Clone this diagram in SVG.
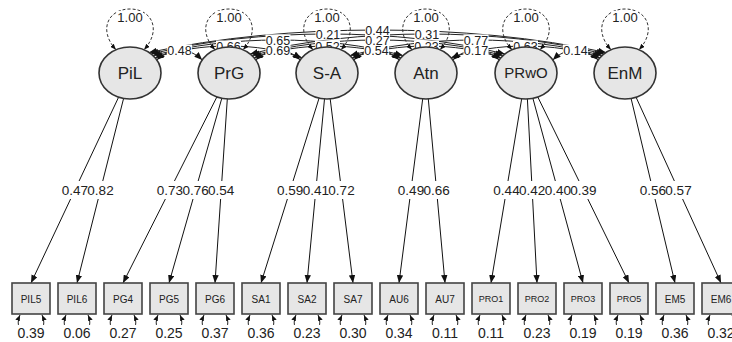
<svg xmlns="http://www.w3.org/2000/svg" width="732" height="342" viewBox="0 0 732 342">
<style>
text{font-family:"Liberation Sans",Arial,sans-serif;fill:#222}
.lat{fill:#e6e6e6;stroke:#333;stroke-width:1.6}
.man{fill:#e6e6e6;stroke:#444;stroke-width:1.6}
.ln{fill:none;stroke:#111;stroke-width:1;marker-end:url(#ah)}
.cor{fill:none;stroke:#222;stroke-width:1;marker-start:url(#ah);marker-end:url(#ah)}
.loop{fill:none;stroke:#333;stroke-width:1;stroke-dasharray:3 2;marker-start:url(#as);marker-end:url(#as)}
.res{fill:none;stroke:#222;stroke-width:1;marker-start:url(#as);marker-end:url(#as)}
.lbl{font-size:12.5px;text-anchor:middle}
.ll{font-size:13.5px;text-anchor:middle}
.rl{font-size:14px;text-anchor:middle}
.vl{font-size:13px;text-anchor:middle}
.bg{fill:#fff}
.lt{font-size:17px;text-anchor:middle}
.mt{font-size:10px;text-anchor:middle}
.pt{font-size:9px;text-anchor:middle}
</style>
<defs>
<marker id="ah" viewBox="0 0 10 8" refX="10" refY="4" markerWidth="8" markerHeight="6.4" markerUnits="userSpaceOnUse" orient="auto-start-reverse"><path d="M0,0 L10,4 L0,8 z" fill="#111"/></marker>
<marker id="as" viewBox="0 0 10 8" refX="10" refY="4" markerWidth="6" markerHeight="5" markerUnits="userSpaceOnUse" orient="auto-start-reverse"><path d="M0,0 L10,4 L0,8 z" fill="#111"/></marker>
</defs>
<g id="connectors">
<path class="ln" d="M118.6,97.2 L31,283"/>
<path class="ln" d="M123.6,98.4 L77,283"/>
<path class="ln" d="M216.9,96.9 L123,283"/>
<path class="ln" d="M221.8,98.3 L169,283"/>
<path class="ln" d="M227.3,99 L215,283"/>
<path class="ln" d="M319.1,98.1 L261,283"/>
<path class="ln" d="M324.5,98.9 L307,283"/>
<path class="ln" d="M330.2,98.9 L353,283"/>
<path class="ln" d="M422.7,98.9 L399,283"/>
<path class="ln" d="M428.3,98.9 L445,283"/>
<path class="ln" d="M521.7,98.7 L491,283"/>
<path class="ln" d="M527.4,99 L537,283"/>
<path class="ln" d="M532.9,98.3 L583,283"/>
<path class="ln" d="M537.8,97 L629,283"/>
<path class="ln" d="M631.1,98.5 L675,283"/>
<path class="ln" d="M636.1,97.3 L721,283"/>
<path class="cor" d="M156.8,60 C170.4,46.7 188.6,46.7 202.2,60"/>
<path class="cor" d="M255.8,60 C269.4,46.7 286.6,46.7 300.2,60"/>
<path class="cor" d="M353.8,60 C367.4,46.7 385.6,46.7 399.2,60"/>
<path class="cor" d="M452.8,60 C466.7,46.7 485.3,46.7 499.2,60"/>
<path class="cor" d="M552.8,60 C566.4,46.7 584.6,46.7 598.2,60"/>
<path class="cor" d="M155.1,57.7 C199.1,42.1 257.9,42.1 301.9,57.7"/>
<path class="cor" d="M254.1,57.7 C298.1,42.1 356.9,42.1 400.9,57.7"/>
<path class="cor" d="M352.1,57.7 C396.7,42.1 456.3,42.1 500.9,57.7"/>
<path class="cor" d="M451.1,57.7 C495.7,42.1 555.3,42.1 599.9,57.7"/>
<path class="cor" d="M153,55.6 C228,34.8 328,34.8 403,55.6"/>
<path class="cor" d="M252,55.6 C327.3,34.8 427.7,34.8 503,55.6"/>
<path class="cor" d="M350,55.6 C425.6,34.8 526.4,34.8 602,55.6"/>
<path class="cor" d="M151.1,54 C257.2,27.3 398.8,27.3 504.9,54"/>
<path class="cor" d="M250.1,54 C356.2,27.3 497.8,27.3 603.9,54"/>
<path class="cor" d="M149.1,52.5 C286.1,22.5 468.9,22.5 605.9,52.5"/>
<path class="loop" d="M116,49.8 C98,30 108,9 130,9 C152,9 162,30 144,49.8"/>
<path class="loop" d="M215,49.8 C197,30 207,9 229,9 C251,9 261,30 243,49.8"/>
<path class="loop" d="M313,49.8 C295,30 305,9 327,9 C349,9 359,30 341,49.8"/>
<path class="loop" d="M412,49.8 C394,30 404,9 426,9 C448,9 458,30 440,49.8"/>
<path class="loop" d="M512,49.8 C494,30 504,9 526,9 C548,9 558,30 540,49.8"/>
<path class="loop" d="M611,49.8 C593,30 603,9 625,9 C647,9 657,30 639,49.8"/>
<path class="res" d="M20,315 C9,340 53,340 42,315"/>
<path class="res" d="M66,315 C55,340 99,340 88,315"/>
<path class="res" d="M112,315 C101,340 145,340 134,315"/>
<path class="res" d="M158,315 C147,340 191,340 180,315"/>
<path class="res" d="M204,315 C193,340 237,340 226,315"/>
<path class="res" d="M250,315 C239,340 283,340 272,315"/>
<path class="res" d="M296,315 C285,340 329,340 318,315"/>
<path class="res" d="M342,315 C331,340 375,340 364,315"/>
<path class="res" d="M388,315 C377,340 421,340 410,315"/>
<path class="res" d="M434,315 C423,340 467,340 456,315"/>
<path class="res" d="M480,315 C469,340 513,340 502,315"/>
<path class="res" d="M526,315 C515,340 559,340 548,315"/>
<path class="res" d="M572,315 C561,340 605,340 594,315"/>
<path class="res" d="M618,315 C607,340 651,340 640,315"/>
<path class="res" d="M664,315 C653,340 697,340 686,315"/>
<path class="res" d="M710,315 C699,340 743,340 732,315"/>
</g>
<g id="correlation-labels">
<g class="bg">
<rect x="167" y="44.5" width="25" height="11"/><rect x="265.5" y="44.5" width="25" height="11"/><rect x="364" y="44.5" width="25" height="11"/><rect x="463.5" y="44.5" width="25" height="11"/><rect x="563" y="44.5" width="25" height="11"/>
<rect x="216" y="40.5" width="25" height="11"/><rect x="315" y="40.5" width="25" height="11"/><rect x="414" y="40.5" width="25" height="11"/><rect x="513" y="40.5" width="25" height="11"/>
<rect x="265.5" y="34.5" width="25" height="11"/><rect x="365" y="34.5" width="25" height="11"/><rect x="463.5" y="34.5" width="25" height="11"/>
<rect x="315.5" y="28.5" width="25" height="11"/><rect x="414.5" y="28.5" width="25" height="11"/>
<rect x="365" y="25" width="25" height="11"/>
</g>
<text class="lbl" x="179.5" y="54.5">0.48</text>
<text class="lbl" x="278" y="54.5">0.69</text>
<text class="lbl" x="376.5" y="54.5">0.54</text>
<text class="lbl" x="476" y="54.5">0.17</text>
<text class="lbl" x="575.5" y="54.5">0.14</text>
<text class="lbl" x="228.5" y="50.5">0.66</text>
<text class="lbl" x="327.5" y="50.5">0.52</text>
<text class="lbl" x="426.5" y="50.5">0.23</text>
<text class="lbl" x="525.5" y="50.5">0.63</text>
<text class="lbl" x="278" y="44.5">0.65</text>
<text class="lbl" x="377.5" y="44.5">0.27</text>
<text class="lbl" x="476" y="44.5">0.77</text>
<text class="lbl" x="328" y="38.5">0.21</text>
<text class="lbl" x="427" y="38.5">0.31</text>
<text class="lbl" x="377.5" y="35">0.44</text>
</g>
<g id="variance-labels">
<g class="bg">
<rect x="117" y="11" width="26" height="12"/><rect x="216" y="11" width="26" height="12"/><rect x="314" y="11" width="26" height="12"/><rect x="413" y="11" width="26" height="12"/><rect x="513" y="11" width="26" height="12"/><rect x="612" y="11" width="26" height="12"/>
</g>
<text class="vl" x="130" y="22">1.00</text>
<text class="vl" x="229" y="22">1.00</text>
<text class="vl" x="327" y="22">1.00</text>
<text class="vl" x="426" y="22">1.00</text>
<text class="vl" x="526" y="22">1.00</text>
<text class="vl" x="625" y="22">1.00</text>
</g>
<g id="PiL"><ellipse class="lat" cx="130" cy="73" rx="31" ry="26"/><text class="lt" x="130" y="79">PiL</text></g>
<g id="PrG"><ellipse class="lat" cx="229" cy="73" rx="31" ry="26"/><text class="lt" x="229" y="79">PrG</text></g>
<g id="S-A"><ellipse class="lat" cx="327" cy="73" rx="31" ry="26"/><text class="lt" x="327" y="79">S-A</text></g>
<g id="Atn"><ellipse class="lat" cx="426" cy="73" rx="31" ry="26"/><text class="lt" x="426" y="79">Atn</text></g>
<g id="PRwO"><ellipse class="lat" cx="526" cy="73" rx="31" ry="26"/><text class="lt" x="526" y="78" style="font-size:15px">PRwO</text></g>
<g id="EnM"><ellipse class="lat" cx="625" cy="73" rx="31" ry="26"/><text class="lt" x="625" y="79">EnM</text></g>
<g id="loading-labels">
<g class="bg">
<rect x="61.3" y="181" width="27" height="18"/><rect x="87" y="181" width="27" height="18"/><rect x="156.4" y="181" width="27" height="18"/><rect x="182.1" y="181" width="27" height="18"/><rect x="207.7" y="181" width="27" height="18"/><rect x="276.7" y="181" width="27" height="18"/><rect x="302.3" y="181" width="27" height="18"/><rect x="328" y="181" width="27" height="18"/><rect x="397.5" y="181" width="27" height="18"/><rect x="423.1" y="181" width="27" height="18"/><rect x="493" y="181" width="27" height="18"/><rect x="518.6" y="181" width="27" height="18"/><rect x="544.3" y="181" width="27" height="18"/><rect x="569.9" y="181" width="27" height="18"/><rect x="639.4" y="181" width="27" height="18"/><rect x="665" y="181" width="27" height="18"/>
</g>
<text class="ll" x="74.8" y="194.8">0.47</text>
<text class="ll" x="100.5" y="194.8">0.82</text>
<text class="ll" x="169.9" y="194.8">0.73</text>
<text class="ll" x="195.6" y="194.8">0.76</text>
<text class="ll" x="221.2" y="194.8">0.54</text>
<text class="ll" x="290.2" y="194.8">0.59</text>
<text class="ll" x="315.8" y="194.8">0.41</text>
<text class="ll" x="341.5" y="194.8">0.72</text>
<text class="ll" x="411" y="194.8">0.49</text>
<text class="ll" x="436.6" y="194.8">0.66</text>
<text class="ll" x="506.5" y="194.8">0.44</text>
<text class="ll" x="532.1" y="194.8">0.42</text>
<text class="ll" x="557.8" y="194.8">0.40</text>
<text class="ll" x="583.4" y="194.8">0.39</text>
<text class="ll" x="652.9" y="194.8">0.56</text>
<text class="ll" x="678.5" y="194.8">0.57</text>
</g>
<g id="PIL5"><rect class="man" x="12" y="283" width="38" height="31"/><text class="mt" x="31" y="302.5">PIL5</text></g>
<g id="PIL6"><rect class="man" x="58" y="283" width="38" height="31"/><text class="mt" x="77" y="302.5">PIL6</text></g>
<g id="PG4"><rect class="man" x="104" y="283" width="38" height="31"/><text class="mt" x="123" y="302.5">PG4</text></g>
<g id="PG5"><rect class="man" x="150" y="283" width="38" height="31"/><text class="mt" x="169" y="302.5">PG5</text></g>
<g id="PG6"><rect class="man" x="196" y="283" width="38" height="31"/><text class="mt" x="215" y="302.5">PG6</text></g>
<g id="SA1"><rect class="man" x="242" y="283" width="38" height="31"/><text class="mt" x="261" y="302.5">SA1</text></g>
<g id="SA2"><rect class="man" x="288" y="283" width="38" height="31"/><text class="mt" x="307" y="302.5">SA2</text></g>
<g id="SA7"><rect class="man" x="334" y="283" width="38" height="31"/><text class="mt" x="353" y="302.5">SA7</text></g>
<g id="AU6"><rect class="man" x="380" y="283" width="38" height="31"/><text class="mt" x="399" y="302.5">AU6</text></g>
<g id="AU7"><rect class="man" x="426" y="283" width="38" height="31"/><text class="mt" x="445" y="302.5">AU7</text></g>
<g id="PRO1"><rect class="man" x="472" y="283" width="38" height="31"/><text class="pt" x="491" y="302">PRO1</text></g>
<g id="PRO2"><rect class="man" x="518" y="283" width="38" height="31"/><text class="pt" x="537" y="302">PRO2</text></g>
<g id="PRO3"><rect class="man" x="564" y="283" width="38" height="31"/><text class="pt" x="583" y="302">PRO3</text></g>
<g id="PRO5"><rect class="man" x="610" y="283" width="38" height="31"/><text class="pt" x="629" y="302">PRO5</text></g>
<g id="EM5"><rect class="man" x="656" y="283" width="38" height="31"/><text class="mt" x="675" y="302.5">EM5</text></g>
<g id="EM6"><rect class="man" x="702" y="283" width="38" height="31"/><text class="mt" x="721" y="302.5">EM6</text></g>
<g id="residual-labels">
<g class="bg">
<rect x="16" y="325" width="30" height="16"/><rect x="62" y="325" width="30" height="16"/><rect x="108" y="325" width="30" height="16"/><rect x="154" y="325" width="30" height="16"/><rect x="200" y="325" width="30" height="16"/><rect x="246" y="325" width="30" height="16"/><rect x="292" y="325" width="30" height="16"/><rect x="338" y="325" width="30" height="16"/><rect x="384" y="325" width="30" height="16"/><rect x="430" y="325" width="30" height="16"/><rect x="476" y="325" width="30" height="16"/><rect x="522" y="325" width="30" height="16"/><rect x="568" y="325" width="30" height="16"/><rect x="614" y="325" width="30" height="16"/><rect x="660" y="325" width="30" height="16"/><rect x="706" y="325" width="30" height="16"/>
</g>
<text class="rl" x="31" y="338">0.39</text>
<text class="rl" x="77" y="338">0.06</text>
<text class="rl" x="123" y="338">0.27</text>
<text class="rl" x="169" y="338">0.25</text>
<text class="rl" x="215" y="338">0.37</text>
<text class="rl" x="261" y="338">0.36</text>
<text class="rl" x="307" y="338">0.23</text>
<text class="rl" x="353" y="338">0.30</text>
<text class="rl" x="399" y="338">0.34</text>
<text class="rl" x="445" y="338">0.11</text>
<text class="rl" x="491" y="338">0.11</text>
<text class="rl" x="537" y="338">0.23</text>
<text class="rl" x="583" y="338">0.19</text>
<text class="rl" x="629" y="338">0.19</text>
<text class="rl" x="675" y="338">0.36</text>
<text class="rl" x="721" y="338">0.32</text>
</g>
</svg>
